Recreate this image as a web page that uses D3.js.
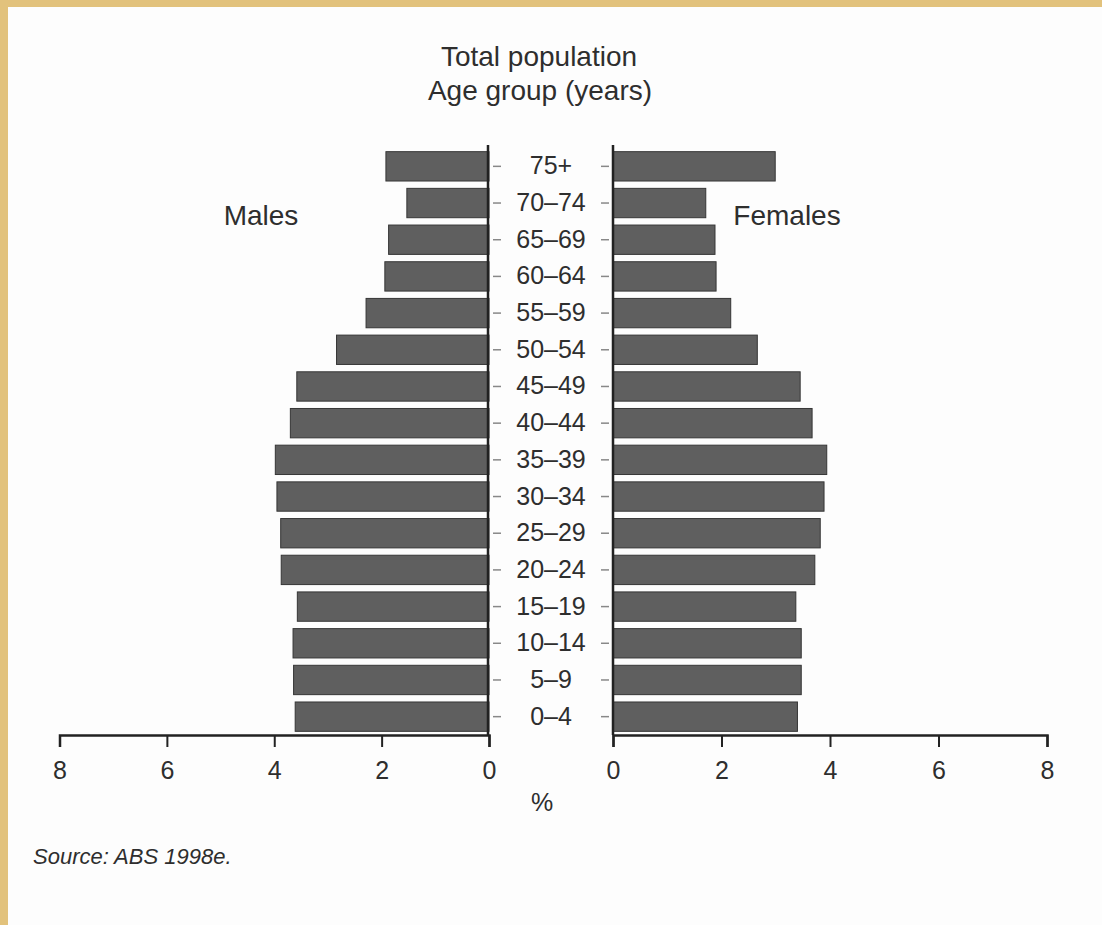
<!DOCTYPE html>
<html>
<head>
<meta charset="utf-8">
<script src="https://cdn.jsdelivr.net/npm/d3@7"></script>
<style>
  body { margin: 0; background: #fdfdfd; }
  svg { display: block; font-family: "Liberation Sans", Arial, sans-serif; }
  .lbl { fill: #2e2e2e; }
</style>
</head>
<body>
<svg id="chart" width="1102" height="925"></svg>
<script>
// Age groups, top of the pyramid first
const ageGroups = ['75+', '70–74', '65–69', '60–64', '55–59', '50–54', '45–49', '40–44',
                   '35–39', '30–34', '25–29', '20–24', '15–19', '10–14', '5–9', '0–4'];

// Percent of total population
const males   = [1.92, 1.53, 1.87, 1.94, 2.29, 2.84, 3.58, 3.70,
                 3.98, 3.95, 3.88, 3.87, 3.57, 3.65, 3.64, 3.61];
const females = [2.99, 1.71, 1.88, 1.90, 2.17, 2.66, 3.45, 3.67,
                 3.94, 3.89, 3.82, 3.72, 3.37, 3.47, 3.47, 3.40];

const xTicks = [0, 2, 4, 6, 8];

const svg = d3.select('#chart');

// scanned page: tan edge top and left, paper everywhere else
svg.append('rect').attr('width', 1102).attr('height', 925).attr('fill', '#e2c27c');
svg.append('rect').attr('x', 8).attr('y', 7).attr('width', 1094).attr('height', 918).attr('fill', '#fdfdfd');

const xL = d3.scaleLinear().domain([0, 8]).range([489, 59.5]);
const xR = d3.scaleLinear().domain([0, 8]).range([613, 1047]);
const y = d3.scaleBand().domain(ageGroups).range([148, 735])
    .paddingInner(0.2).paddingOuter(0.1);

const rows = ageGroups.map((g, i) => ({ group: g, m: males[i], f: females[i] }));

// Bars
const bars = svg.append('g').attr('class', 'bars');
bars.selectAll('rect.m')
    .data(rows)
    .join('rect')
    .attr('class', 'm')
    .attr('x', d => xL(d.m))
    .attr('y', d => y(d.group))
    .attr('width', d => xL(0) - xL(d.m))
    .attr('height', y.bandwidth())
    .attr('fill', '#5f5f5f')
    .attr('stroke', '#363636')
    .attr('stroke-width', 1);

bars.selectAll('rect.f')
    .data(rows)
    .join('rect')
    .attr('class', 'f')
    .attr('x', xR(0))
    .attr('y', d => y(d.group))
    .attr('width', d => xR(d.f) - xR(0))
    .attr('height', y.bandwidth())
    .attr('fill', '#5f5f5f')
    .attr('stroke', '#363636')
    .attr('stroke-width', 1);

// Vertical axes with the age labels between them
const yLeft = svg.append('g')
    .attr('transform', `translate(${xL(0)},0)`)
    .call(d3.axisRight(y).tickSize(12).tickPadding(50).tickSizeOuter(0));
yLeft.select('.domain').remove();
yLeft.selectAll('.tick line').attr('x1', 4).attr('stroke', '#888').attr('stroke-width', 1.5);
yLeft.selectAll('.tick text')
    .attr('x', 62)
    .attr('text-anchor', 'middle')
    .attr('font-size', 25)
    .attr('font-family', null)
    .attr('fill', '#2e2e2e');

const yRight = svg.append('g')
    .attr('transform', `translate(${xR(0)},0)`)
    .call(d3.axisLeft(y).tickSize(12).tickSizeOuter(0).tickFormat(''));
yRight.select('.domain').remove();
yRight.selectAll('.tick line').attr('x1', -4).attr('stroke', '#888').attr('stroke-width', 1.5);

[xL(0) - 1, xR(0)].forEach(x => {
    svg.append('line')
        .attr('x1', x).attr('x2', x)
        .attr('y1', 145).attr('y2', 735)
        .attr('stroke', '#222').attr('stroke-width', 2.5);
});

// Bottom axes
function styleX(g) {
    g.select('.domain').attr('stroke', '#222').attr('stroke-width', 2.5);
    g.selectAll('.tick line').attr('stroke', '#222').attr('stroke-width', 2);
    g.selectAll('.tick text')
        .attr('font-size', 25)
        .attr('font-family', null)
        .attr('fill', '#2e2e2e');
}

svg.append('g')
    .attr('transform', 'translate(0,735)')
    .call(d3.axisBottom(xL).tickValues(xTicks).tickFormat(d3.format('d'))
        .tickSize(12).tickPadding(14))
    .call(styleX);

svg.append('g')
    .attr('transform', 'translate(0,735)')
    .call(d3.axisBottom(xR).tickValues(xTicks).tickFormat(d3.format('d'))
        .tickSize(12).tickPadding(14))
    .call(styleX);

// Titles and labels
const text = (x, yy, s, size, extra) => {
    const t = svg.append('text')
        .attr('class', 'lbl')
        .attr('x', x).attr('y', yy)
        .attr('text-anchor', 'middle')
        .attr('font-size', size)
        .text(s);
    if (extra) extra(t);
    return t;
};

text(539, 66, 'Total population', 28);
text(540, 100, 'Age group (years)', 28);
text(261, 225, 'Males', 28);
text(787, 225, 'Females', 28);
text(542, 811, '%', 25);
text(33, 864, 'Source: ABS 1998e.', 22, t => t.attr('text-anchor', 'start').attr('font-style', 'italic'));
</script>
</body>
</html>
